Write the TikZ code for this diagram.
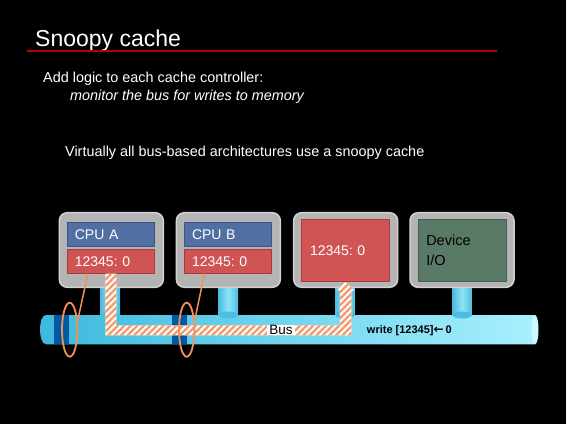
\documentclass[tikz,border=0pt]{standalone}
\usepackage{fontspec}
\setmainfont{Liberation Sans}
\newfontfamily\arrowfont{DejaVu Sans}
\frenchspacing
\usetikzlibrary{patterns.meta,shapes.geometric,calc}

\definecolor{rule}{HTML}{B00000}
\definecolor{framegray}{HTML}{B4B4B4}
\definecolor{frameedge}{HTML}{D2D2D2}
\definecolor{cpublue}{HTML}{516FA2}
\definecolor{cpuedge}{HTML}{3A5585}
\definecolor{cachered}{HTML}{D05454}
\definecolor{cacheedge}{HTML}{A53C3C}
\definecolor{devgreen}{HTML}{5A7A68}
\definecolor{devedge}{HTML}{465F50}
\definecolor{buslo}{HTML}{3CB9DC}
\definecolor{bushi}{HTML}{A8F0FF}
\definecolor{busend}{HTML}{CCF9FF}
\definecolor{stubc}{HTML}{4CBDE0}
\definecolor{stublight}{HTML}{8EE3F7}
\definecolor{tapblue}{HTML}{0059A0}
\definecolor{snoop}{HTML}{F4915A}
\definecolor{stripe}{HTML}{F59A68}

\tikzset{
  frame/.style={fill=framegray, draw=frameedge, line width=1.5pt, rounded corners=8pt,
                minimum width=104pt, minimum height=74.6pt},
  cpubox/.style={fill=cpublue, draw=cpuedge, line width=0.8pt, text=white,
                 minimum width=86.3pt, minimum height=24pt, text width=72pt,
                 inner xsep=7.15pt, align=left, font=\fontsize{14}{16}\selectfont},
  cachebox/.style={cpubox, fill=cachered, draw=cacheedge},
  membox/.style={fill=cachered, draw=cacheedge, line width=0.8pt, text=white,
                 minimum width=87.6pt, minimum height=62.7pt, text width=71pt,
                 inner xsep=8.3pt, align=left, font=\fontsize{14}{16}\selectfont},
  devbox/.style={membox, fill=devgreen, draw=devedge, text=black,
                 text width=72.8pt, inner xsep=7.4pt, font=\fontsize{14.5}{19.3}\selectfont},
  stub/.style={left color=stubc, right color=stubc, middle color=stublight},
  ring/.style={ellipse, draw=snoop, line width=1.8pt, minimum width=15.4pt, minimum height=54pt, inner sep=0pt},
  tapline/.style={draw=snoop, line width=1.5pt},
  band/.style={preaction={fill=white},
               pattern={Lines[angle=45,distance=4.6pt,line width=2.3pt]}, pattern color=stripe},
  txt/.style={text=white, inner sep=0pt, anchor=base west}
}

\begin{document}
\begin{tikzpicture}[x=1pt,y=-1pt]
\fill[black] (0,0) rectangle (566,424);
\useasboundingbox (0,0) rectangle (566,424);

% title and text
\node[txt, font=\fontsize{23}{26}\selectfont] (title) at (35,46.5) {Snoopy cache};
\draw[rule, line width=1.8pt] (27,51) -- (497,51);
\node[txt, font=\fontsize{14.4}{17}\selectfont] (l1) at (43,82) {Add logic to each cache controller:};
\node[txt, font=\fontsize{14.4}{17}\selectfont\itshape] (l2) at (70,100) {monitor the bus for writes to memory};
\node[txt, font=\fontsize{14.4}{17}\selectfont] (l3) at (65,156) {Virtually all bus-based architectures use a snoopy cache};

% the bus
\shade[left color=buslo, right color=bushi]
  (535,315) -- (46,315) .. controls (38,315) and (38,344.3) .. (46,344.3) -- (535,344.3) -- cycle;
\fill[busend] (535,329.65) ellipse [x radius=3.5, y radius=14.65];

% bus taps of the two caches
\fill[tapblue] (54,315) rectangle (69.3,344.3);
\fill[tapblue] (172.3,315) rectangle (186.7,344.3);

% stubs from each unit down to the bus
\foreach \cx in {110.35, 228.3, 345, 462.2} {
  \shade[stub] (\cx-9.7,284) rectangle (\cx+9.7,315);
  \fill[stubc] (\cx,315) ellipse [x radius=9.7, y radius=3.5];
}

% units
\node[frame] (fa) at (111.3,250) {};
\node[frame] (fb) at (228.35,250) {};
\node[frame] (fm) at (345.65,250) {};
\node[frame] (fd) at (462,250) {};

\node[cpubox] (cpua) at (110.85,234.2) {CPU A};
\node[cachebox] (cachea) at (110.85,261.3) {12345: 0};
\node[cpubox] (cpub) at (228,234.2) {CPU B};
\node[cachebox] (cacheb) at (228,261.3) {12345: 0};
\node[membox] (memc) at (345.5,250.35) {12345: 0};
\node[devbox] (dev) at (462.65,250.35) {Device\\I/O};

% write travelling from cache A over the bus into memory
\path[band] ($(cachea.south)+(-5.5,0)$) -- ($(cachea.south)+(5.5,0)$)
  |- ($(memc.south)+(-5.75,43.3)$) -- ++(0,-35) -- ++(-3.5,0) -- (memc.south)
  -- ++(9.25,8.5) -- ++(-3.5,0) |- ($(cachea.south)+(-5.5,61.7)$) -- cycle;

\node[fill=white, inner xsep=2pt, inner ysep=0pt, minimum height=10pt,
      font=\fontsize{13.5}{14}\selectfont] (buslbl) at (281,329.5) {Bus};
\node[font=\fontsize{11}{12}\selectfont\bfseries, inner sep=0pt] (wr) at (409.3,331)
  {write [12345]{\arrowfont\fontsize{12}{12}\selectfont\bfseries ←}\,0};

% snooping rings on the bus
\node[ring] (ra) at (69.7,329.7) {};
\node[ring] (rb) at (186.7,329.7) {};
\draw[tapline] (ra.50) -- ([xshift=20.6pt]cachea.south west);
\draw[tapline] (rb.50) -- ([xshift=20pt]cacheb.south west);
\end{tikzpicture}
\end{document}
